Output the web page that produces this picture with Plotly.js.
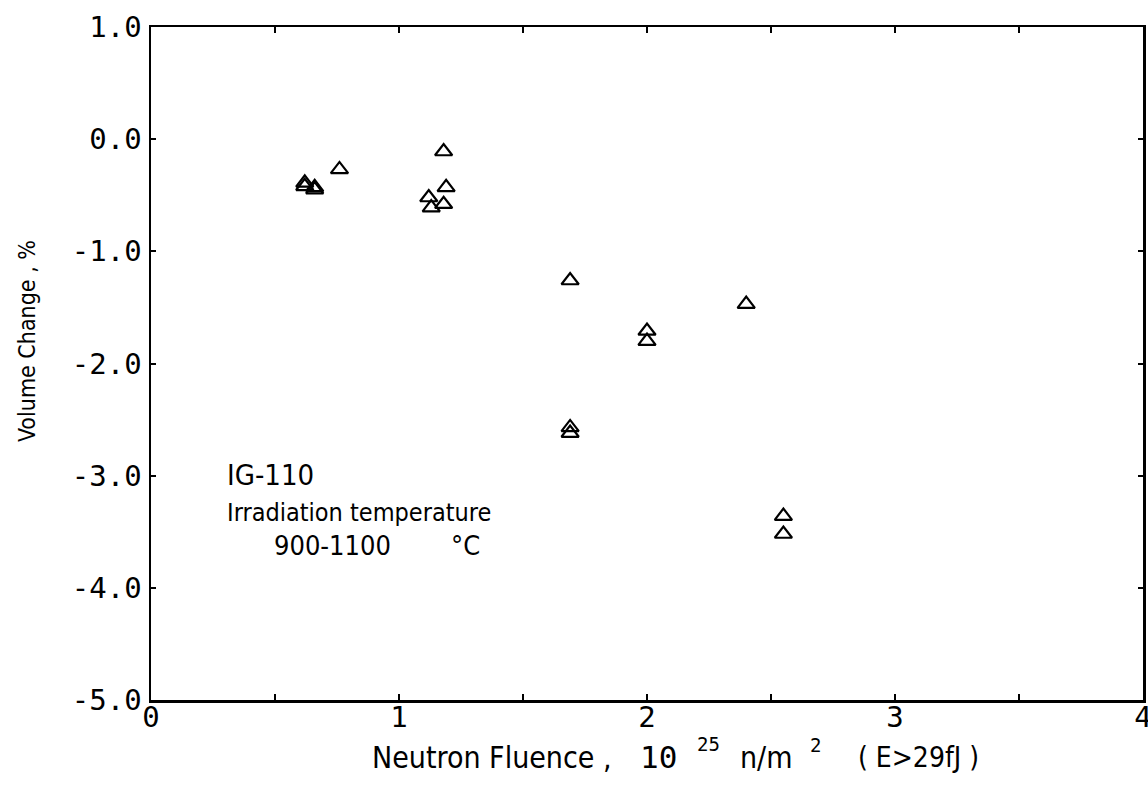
<!DOCTYPE html>
<html>
<head>
<meta charset="utf-8">
<script src="https://cdn.plot.ly/plotly-3.0.1.min.js"></script>
<style>
  html, body { margin: 0; padding: 0; background: #fff; }
  #chart { width: 1148px; height: 790px; }
</style>
</head>
<body>
<div id="chart"></div>
<script>
// Neutron fluence (10^25 n/m^2, E>29fJ) and volume change (%) for IG-110 graphite
const fluence = [0.62, 0.62, 0.66, 0.66, 0.76, 1.18, 1.19, 1.12, 1.18, 1.13,
                 1.69, 2.00, 2.00, 2.40, 1.69, 1.69, 2.55, 2.55];
const volumeChange = [-0.39, -0.42, -0.43, -0.45, -0.27, -0.11, -0.43, -0.52, -0.58, -0.61,
                      -1.26, -1.71, -1.80, -1.47, -2.57, -2.62, -3.36, -3.52];

const xTickVals = [0, 0.5, 1, 1.5, 2, 2.5, 3, 3.5, 4];
const xTickText = ['0', '', '1', '', '2', '', '3', '', '4'];
const yTickVals = [1, 0, -1, -2, -3, -4, -5];
const yTickText = ['1.0', '0.0', '-1.0', '-2.0', '-3.0', '-4.0', '-5.0'];

const monoFont = 'DejaVu Sans Mono, Liberation Mono, monospace';
const narrowFont = 'Liberation Sans Narrow, DejaVu Sans Condensed, Arial Narrow, sans-serif';

// plot-area geometry used to place the free text in pixel terms
const M = { l: 151, r: 5, t: 27, b: 90 };
const W = 1148, H = 790;
const pw = W - M.l - M.r, ph = H - M.t - M.b;
const px = v => (v - M.l) / pw;
const py = v => (H - M.b - v) / ph;

function note(text, x, y, size, opts) {
  return Object.assign({
    xref: 'paper', yref: 'paper', x: px(x), y: py(y),
    xanchor: 'left', yanchor: 'middle', showarrow: false,
    text: text,
    font: { family: narrowFont, size: size, color: '#000' }
  }, opts || {});
}

const trace = {
  x: fluence,
  y: volumeChange,
  type: 'scatter',
  mode: 'markers',
  marker: {
    symbol: 'triangle-up-open',
    size: 15,
    color: '#000',
    line: { color: '#000', width: 2.2 }
  },
  hoverinfo: 'x+y',
  showlegend: false
};

const layout = {
  width: W,
  height: H,
  paper_bgcolor: '#fff',
  plot_bgcolor: '#fff',
  margin: M,
  showlegend: false,
  xaxis: {
    range: [0, 4],
    showgrid: false,
    zeroline: false,
    showline: true,
    linecolor: '#000',
    linewidth: 2.5,
    mirror: 'ticks',
    ticks: 'inside',
    ticklen: 6,
    tickwidth: 2,
    tickcolor: '#000',
    tickmode: 'array',
    tickvals: xTickVals,
    ticktext: xTickText,
    tickfont: { family: monoFont, size: 29, color: '#000' },
    ticklabelstandoff: -10,
    ticklabeloverflow: 'allow'
  },
  xaxis2: {
    overlaying: 'x',
    anchor: 'free',
    position: py(138),
    side: 'bottom',
    range: [0, 4],
    showgrid: false,
    zeroline: false,
    showline: true,
    linecolor: '#000',
    linewidth: 2.5,
    ticks: 'inside',
    ticklen: 5,
    tickwidth: 2,
    tickcolor: '#000',
    tickmode: 'array',
    tickvals: xTickVals,
    showticklabels: false
  },
  yaxis: {
    range: [-5, 1],
    showgrid: false,
    zeroline: false,
    showline: true,
    linecolor: '#000',
    linewidth: 2.5,
    mirror: 'ticks',
    ticks: 'inside',
    ticklen: 5,
    tickwidth: 2,
    tickcolor: '#000',
    tickmode: 'array',
    tickvals: yTickVals,
    ticktext: yTickText,
    tickfont: { family: monoFont, size: 29, color: '#000' },
    ticklabelstandoff: 1
  },
  annotations: [
    // x-axis title, set piece by piece so the exponent sits like the plotter lettering
    note('Neutron Fluence ,', 370, 757, 30),
    note('10', 638, 757, 31, { font: { family: monoFont, size: 31, color: '#000' } }),
    note('25', 695, 744, 19, { font: { family: monoFont, size: 19, color: '#000' } }),
    note('n/m', 738, 757, 30),
    note('2', 808, 745, 19, { font: { family: monoFont, size: 19, color: '#000' } }),
    note('( E&gt;29fJ )', 856, 757, 28),
    // y-axis title
    note('Volume Change , %', 27, 341, 23, { xanchor: 'center', textangle: -90 }),
    // specimen / irradiation condition block
    note('IG-110', 225, 475, 29),
    note('Irradiation temperature', 225, 512, 25),
    note('900-1100', 272, 545, 27),
    note('°C', 449, 545, 27)
  ]
};

Plotly.newPlot('chart', [trace], layout, { displayModeBar: false, staticPlot: true });
</script>
</body>
</html>
